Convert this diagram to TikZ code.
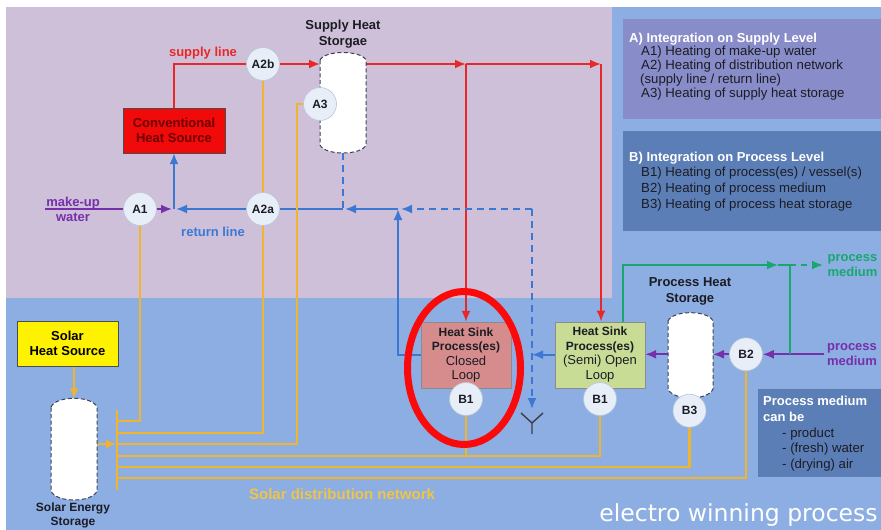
\documentclass[tikz,border=0pt]{standalone}
\usepackage{fontspec}
\setmainfont{Liberation Sans}
\newfontfamily\dvs{DejaVu Sans}
\usetikzlibrary{arrows.meta,calc}
\pgfdeclarelayer{back}
\pgfdeclarelayer{lines}
\pgfsetlayers{back,lines,main}

\definecolor{lilac}{RGB}{207,192,218}
\definecolor{bgblue}{RGB}{140,174,226}
\definecolor{boxA}{RGB}{136,140,200}
\definecolor{boxB}{RGB}{92,126,182}
\definecolor{cred}{RGB}{232,40,40}
\definecolor{ringred}{RGB}{250,10,10}
\definecolor{cblue}{RGB}{58,120,212}
\definecolor{cpurple}{RGB}{118,48,170}
\definecolor{cgreen}{RGB}{24,168,110}
\definecolor{cyel}{RGB}{240,180,45}
\definecolor{cyeltxt}{RGB}{240,196,70}
\definecolor{circfill}{RGB}{232,238,247}
\definecolor{circdraw}{RGB}{185,198,215}
\definecolor{tankdraw}{RGB}{60,66,84}
\definecolor{darktxt}{RGB}{28,28,36}
\definecolor{convfill}{RGB}{240,10,10}
\definecolor{convtxt}{RGB}{110,0,0}
\definecolor{closedfill}{RGB}{214,140,140}
\definecolor{openfill}{RGB}{200,220,150}

\tikzset{
 tip/.style={-{Latex[length=11pt,width=9pt]}},
 redl/.style={draw=cred,line width=1.8pt},
 bluel/.style={draw=cblue,line width=1.8pt},
 purl/.style={draw=cpurple,line width=1.8pt},
 greenl/.style={draw=cgreen,line width=1.8pt},
 yell/.style={draw=cyel,line width=2.4pt},
 dsh/.style={dash pattern=on 7pt off 5pt},
 port/.style={circle,fill=circfill,draw=circdraw,line width=0.6pt,minimum size=33pt,inner sep=0pt,font=\fontsize{12}{14}\selectfont\bfseries,text=darktxt},
 tank/.style={draw=tankdraw,fill=white,line width=1pt,dash pattern=on 4pt off 2.5pt},
 tankarea/.style={inner sep=0pt,outer sep=0pt},
 lbl/.style={font=\fontsize{13}{15.6}\selectfont\bfseries,align=center,inner sep=0pt},
 srcbox/.style={minimum width=101pt,minimum height=45pt,inner sep=0pt,align=center,font=\fontsize{13}{15.5}\selectfont\bfseries},
 sinkbox/.style={draw=black!45,minimum width=90pt,minimum height=66pt,inner sep=0pt,align=center,font=\fontsize{12}{14.5}\selectfont,text=darktxt},
 panel/.style={anchor=north west,inner sep=0pt,minimum width=258pt},
 paneltxt/.style={anchor=base west,inner sep=0pt,font=\fontsize{13.2}{14}\selectfont,text=darktxt},
 panelhd/.style={anchor=base west,inner sep=0pt,font=\fontsize{13}{14}\selectfont\bfseries,text=white},
}

\begin{document}
\begin{tikzpicture}[x=1pt,y=-1pt]
\useasboundingbox (0,0) rectangle (881,530);
\begin{pgfonlayer}{back}
\fill[white] (0,0) rectangle (881,530);
\fill[bgblue] (6,7) rectangle (881,530);
\fill[lilac] (6,7) rectangle (612,298);
\end{pgfonlayer}

% right panels
\node[panel,fill=boxA,minimum height=100pt] (boxa) at (623,19) {};
\node[panel,fill=boxB,minimum height=100pt] (boxb) at (623,131) {};
\node[panel,fill=boxB,minimum width=123pt,minimum height=88pt] (boxpm) at (758,389) {};

\node[panelhd] (a0) at (629,42) {A) Integration on Supply Level};
\node[paneltxt] (a1) at (641,55.5) {A1) Heating of make-up water};
\node[paneltxt] (a2) at (641,69.5) {A2) Heating of distribution network};
\node[paneltxt] (a3) at (640,83.5) {(supply line / return line)};
\node[paneltxt] (a4) at (641,97.5) {A3) Heating of supply heat storage};

\node[panelhd] (b0) at (629,161) {B) Integration on Process Level};
\node[paneltxt] (b1) at (641,176.5) {B1) Heating of process(es) / vessel(s)};
\node[paneltxt] (b2) at (641,192.5) {B2) Heating of process medium};
\node[paneltxt] (b3) at (641,208) {B3) Heating of process heat storage};

\node[panelhd] (p0) at (763,405.5) {Process medium};
\node[panelhd] (p1) at (763,421.5) {can be};
\node[paneltxt] (p2) at (782,437) {- product};
\node[paneltxt] (p3) at (782,452.5) {- (fresh) water};
\node[paneltxt] (p4) at (782,468) {- (drying) air};

% sources and sinks
\node[srcbox,draw=black!70,fill=convfill,text=convtxt,minimum width=102pt] (conv) at (174,130.5) {Conventional\\Heat Source};
\node[srcbox,draw=black!70,fill=yellow,text=black] (solar) at (67.5,343.5) {Solar\\Heat Source};
\node[sinkbox,fill=closedfill] (hsc) at (466,355) {\textbf{Heat Sink}\\\textbf{Process(es)}\\{\fontsize{13}{14.5}\selectfont Closed}\\{\fontsize{13}{14.5}\selectfont Loop}};
\node[sinkbox,fill=openfill] (hso) at (600,354.7) {\textbf{Heat Sink}\\\textbf{Process(es)}\\{\fontsize{13}{14.5}\selectfont (Semi) Open}\\{\fontsize{13}{14.5}\selectfont Loop}};

% tanks
\node[tankarea,minimum width=46pt,minimum height=100.5pt] (sst) at (343,102.75) {};
\draw[tank] (320,60) .. controls (325,50) and (361,50) .. (366,60) -- (366,145) .. controls (361,155.7) and (325,155.7) .. (320,145) -- cycle;
\node[tankarea,minimum width=46pt,minimum height=101.7pt] (slt) at (74,449.15) {};
\draw[tank] (51,407) .. controls (56,395.4) and (92,395.4) .. (97,407) -- (97,491) .. controls (92,503) and (56,503) .. (51,491) -- cycle;
\node[tankarea,minimum width=45pt,minimum height=85.3pt] (pht) at (690.5,355.35) {};
\draw[tank] (668,321) .. controls (673,309.9) and (708,309.9) .. (713,321) -- (713,389) .. controls (708,401) and (673,401) .. (668,389) -- cycle;

% ports
\node[port] (A1) at (140,209) {A1};
\node[port] (A2a) at (263,209) {A2a};
\node[port] (A2b) at (263,64) {A2b};
\node[port] (A3) at (320,104) {A3};
\node[port] (B1c) at (466,399) {B1};
\node[port] (B1s) at (600,399) {B1};
\node[port] (B2) at (746,354.3) {B2};
\node[port] (B3) at (689.5,410.7) {B3};

% labels
\node[lbl,text=darktxt] (lsht) at (343,34) {Supply Heat\\Storgae};
\node[lbl,text=darktxt] (lpht) at (690,291.3) {Process Heat\\Storage};
\node[lbl,text=darktxt,font=\fontsize{12}{13.5}\selectfont\bfseries] (lslt) at (73,515.5) {Solar Energy\\Storage};
\node[lbl,text=cred] (lsup) at (203,53) {supply line};
\node[lbl,text=cblue] (lret) at (213,232) {return line};
\node[lbl,text=cpurple] (lmw) at (73,209.5) {make-up\\water};
\node[lbl,text=cgreen,font=\fontsize{13}{14.7}\selectfont\bfseries] (lpmo) at (852.5,265.3) {process\\medium};
\node[lbl,text=cpurple,font=\fontsize{13}{14.4}\selectfont\bfseries] (lpmi) at (852,354.5) {process\\medium};
\node[lbl,text=cyeltxt,font=\fontsize{15}{17}\selectfont\bfseries] (lsdn) at (342,494) {Solar distribution network};
\node[inner sep=0pt,anchor=base,text=white,font=\dvs\fontsize{23.5}{26}\selectfont] (lewp) at (738.5,521.5) {electro winning process};

% coordinates
\coordinate (jr1) at (466,64);
\coordinate (jr2) at (601,64);
\coordinate (rj1) at (174,209);
\coordinate (rj2) at (343,209);
\coordinate (rj3) at (398,209);
\coordinate (dj) at (532,209);
\coordinate (dr) at (532,409);
\coordinate (ysym) at (532,423);
\coordinate (mw) at (45,209);
\coordinate (pmin) at (824,354.3);
\coordinate (g0) at (622.7,321.7);
\coordinate (g1) at (778,265);
\coordinate (g2) at (790,265);
\coordinate (g3) at (823,265);
\coordinate (bt) at (117,410);
\coordinate (bb) at (117,490);
\coordinate (y1) at (117,421);
\coordinate (y2) at (117,433);
\coordinate (y3) at (117,444);
\coordinate (y3c) at (297,444);
\coordinate (y4) at (117,456);
\coordinate (y5) at (117,467);
\coordinate (y6) at (117,478);

\begin{pgfonlayer}{lines}
% supply (red)
\draw[redl] (conv.north) |- (A2b.west);
\draw[redl,tip] (A2b.east) -- (sst.west |- A2b.east);
\draw[redl,tip] (sst.east |- A2b.east) -- (jr1);
\draw[redl,tip] (jr1) -- (jr2);
\draw[redl,tip] (jr1) -- (jr1 |- hsc.north);
\draw[redl,tip] (jr2) -- (jr2 |- hso.north);
% return (blue)
\draw[bluel,tip] (rj1) -- (conv.south);
\draw[bluel,tip,shorten >=2pt] (A2a.west) -- (rj1);
\draw[bluel] (rj2) -- (A2a.east);
\draw[bluel,dsh] (sst.south) -- (rj2);
\draw[bluel,tip,shorten >=2pt] (rj3) -- (rj2);
\draw[bluel,tip] (hsc.west) -| (rj3);
\draw[bluel,dsh,tip,shorten >=3pt] (dj) -- (rj3);
\draw[bluel,dsh,tip] (dj) -- (dr);
\draw[bluel,tip] (hso.west) -- (dj |- hso.west);
\draw[draw=darktxt!85,line width=1.4pt] ($(ysym)+(-11,-10)$) -- (ysym) -- ($(ysym)+(11,-10)$) (ysym) -- ($(ysym)+(0,11)$);
% make-up water and process medium (purple)
\draw[purl] (mw) -- (A1.west);
\draw[purl,tip,shorten >=2pt] (A1.east) -- (rj1);
\draw[purl,tip] (pmin) -- (B2.east);
\draw[purl,tip] (B2.west) -- (pht.east |- B2.west);
\draw[purl,tip] (pht.west |- B2.west) -- (hso.east |- B2.west);
% process medium out (green)
\draw[greenl,tip] (g0) |- (g1);
\draw[greenl] (g1) -- (g2) -- (g2 |- pmin);
\draw[greenl,dash pattern=on 6pt off 5pt,tip] (g2) -- (g3);
% solar distribution (yellow)
\draw[yell] (bt) -- (bb);
\draw[yell] (A1.south) |- (y1);
\draw[yell] (A2b.south) |- (y2);
\draw[yell] (A3.west) -| (y3c) -- (y3);
\draw[yell] (B1c.south) |- (y4);
\draw[yell] (B1s.south) |- (y4);
\draw[yell] (B3.south) |- (y5);
\draw[yell] (B2.south) |- (y6);
\draw[yell,-{Latex[length=10pt,width=9pt]},shorten >=1pt] (slt.east |- y3) -- (y3);
\draw[yell,-{Latex[length=10pt,width=9pt]}] (slt.north |- solar.south) -- (slt.north);
\end{pgfonlayer}

% highlight ring
\draw[draw=ringred,line width=7pt] (464,368) ellipse [x radius=56.5, y radius=76.5];
\end{tikzpicture}
\end{document}
